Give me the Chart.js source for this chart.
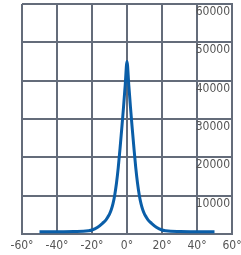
<!DOCTYPE html>
<html>
<head>
<meta charset="utf-8">
<script src="https://cdn.jsdelivr.net/npm/chart.js@4/dist/chart.umd.min.js"></script>
<style>
  html, body { margin: 0; padding: 0; background: #fff; }
</style>
</head>
<body>
<canvas id="chart" width="241" height="255"></canvas>
<script>
// polar intensity curve
const angles = [-50, -40, -30, -25, -22, -20, -17, -14, -12, -11, -10, -9, -8, -7, -6, -5, -4, -3, -2, -1,
  0, 1, 2, 3, 4, 5, 6, 7, 8, 9, 10, 11, 12, 14, 17, 20, 22, 25, 30, 40, 50];
const intensity = [600, 600, 650, 700, 850, 1050, 1700, 2800, 3700, 4400, 5200, 6300, 7900, 10200, 13300, 17300, 22200, 27500, 33000, 39000,
  45000, 39000, 33000, 27500, 22200, 17300, 13300, 10200, 7900, 6300, 5200, 4400, 3700, 2800, 1700, 1050, 850, 700, 650, 600, 600];
const xTicks = [-60, -40, -20, 0, 20, 40, 60];
const yTicks = [0, 10000, 20000, 30000, 40000, 50000, 60000];

const gridColor = "#646c7a";
const labelFont = { family: "'DejaVu Sans Condensed', 'DejaVu Sans', sans-serif", size: 12 };

// drop the automatic label padding, layout padding sets the plot box
const noPad = (axis) => {
  axis.paddingTop = 0;
  axis.paddingBottom = 0;
  axis.paddingLeft = 0;
  axis.paddingRight = 0;
};

new Chart(document.getElementById("chart"), {
  type: "line",
  data: {
    datasets: [
      {
        data: angles.map((a, i) => ({ x: a, y: intensity[i] })),
        borderColor: "#0a5ea8",
        borderWidth: 3,
        pointRadius: 0,
        cubicInterpolationMode: "monotone",
        fill: false,
      },
    ],
  },
  options: {
    responsive: false,
    animation: false,
    layout: { padding: { left: 22, right: 9, top: 4, bottom: 0 } },
    plugins: { legend: { display: false }, tooltip: { enabled: false } },
    scales: {
      x: {
        type: "linear",
        min: -60,
        max: 60,
        afterBuildTicks: (axis) => {
          axis.ticks = xTicks.map((v) => ({ value: v }));
        },
        afterFit: (axis) => {
          noPad(axis);
          axis.height = 21;
        },
        ticks: {
          callback: (v) => v + "°",
          color: "#555",
          font: labelFont,
          padding: 5,
          maxRotation: 0,
        },
        grid: { color: gridColor, lineWidth: 2, drawTicks: false },
        border: { color: gridColor, width: 2 },
      },
      y: {
        position: "right",
        min: 0,
        max: 60000,
        afterBuildTicks: (axis) => {
          axis.ticks = yTicks.map((v) => ({ value: v }));
        },
        afterFit: (axis) => {
          noPad(axis);
          axis.width = 0;
        },
        ticks: {
          mirror: true,
          padding: -2,
          labelOffset: 8,
          color: "#555",
          font: labelFont,
          callback: (v) => (v === 0 ? "" : v),
        },
        grid: { color: gridColor, lineWidth: 2, drawTicks: false },
        border: { color: gridColor, width: 2 },
      },
    },
  },
});
</script>
</body>
</html>
